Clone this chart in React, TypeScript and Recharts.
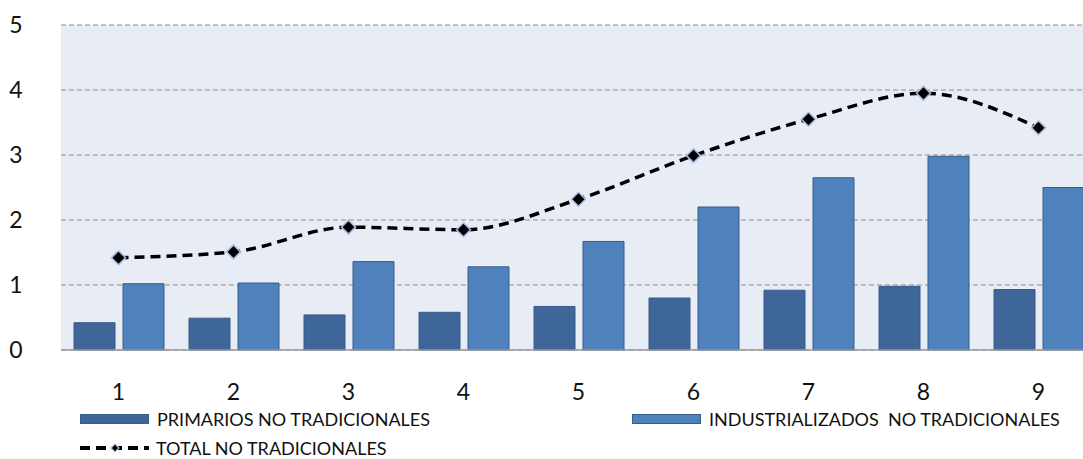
import React from "react"
import {
  ComposedChart,
  Bar,
  Line,
  XAxis,
  YAxis,
  CartesianGrid,
} from "recharts"

const categories = ["1", "2", "3", "4", "5", "6", "7", "8", "9"]
const primarios = [0.42, 0.49, 0.54, 0.58, 0.67, 0.8, 0.92, 0.98, 0.93]
const industrializados = [1.02, 1.03, 1.36, 1.28, 1.67, 2.2, 2.65, 2.98, 2.5]
const total = [1.42, 1.51, 1.89, 1.85, 2.32, 2.99, 3.55, 3.95, 3.42]
const yTicks = [0, 1, 2, 3, 4, 5]

const data = categories.map((c, i) => ({
  name: c,
  primarios: primarios[i],
  industrializados: industrializados[i],
  total: total[i],
}))

const FONT = "Lato, 'Open Sans', sans-serif"
const DARK = "#3F6698"
const LIGHT = "#4F81BD"
const EDGE = "#385D8A"

// diamond marker
const Diamond = (props: any) => {
  const { cx, cy } = props
  if (cx == null || cy == null) return null
  const r = 7
  return (
    <polygon
      points={`${cx},${cy - r} ${cx + r},${cy} ${cx},${cy + r} ${cx - r},${cy}`}
      fill="#000"
      stroke="#A9BCE0"
      strokeWidth={1.5}
    />
  )
}

const YTick = (props: any) => {
  const { y, payload } = props
  return (
    <text x={16} y={y} dy={8} textAnchor="middle" fontSize={23} fill="#111" fontFamily={FONT}>
      {payload.value}
    </text>
  )
}

function LegendRow() {
  const text = { fontSize: 18, lineHeight: "16px", color: "#111", fontFamily: FONT, whiteSpace: "nowrap" as const }
  return (
    <>
      <div style={{ position: "absolute", left: 80, top: 411, height: 16, display: "flex", alignItems: "center" }}>
        <div style={{ width: 67, height: 8, background: DARK, border: `1px solid ${EDGE}` }} />
        <span style={{ ...text, marginLeft: 8 }}>PRIMARIOS NO TRADICIONALES</span>
      </div>
      <div style={{ position: "absolute", left: 632, top: 411, height: 16, display: "flex", alignItems: "center" }}>
        <div style={{ width: 67, height: 8, background: LIGHT, border: `1px solid ${EDGE}` }} />
        <span style={{ ...text, marginLeft: 8 }}>INDUSTRIALIZADOS&nbsp; NO TRADICIONALES</span>
      </div>
      <div style={{ position: "absolute", left: 80, top: 440, height: 16, display: "flex", alignItems: "center" }}>
        <svg width={69} height={12}>
          <line x1={0} y1={6} x2={69} y2={6} stroke="#000" strokeWidth={4} strokeDasharray="10 6" />
          <polygon points="35,2 39,6 35,10 31,6" fill="#000" stroke="#A9BCE0" strokeWidth={1.2} />
        </svg>
        <span style={{ ...text, marginLeft: 7 }}>TOTAL NO TRADICIONALES</span>
      </div>
    </>
  )
}

export default function App() {
  return (
    <div style={{ position: "fixed", left: 0, top: 0, width: 1083, height: 459, overflow: "hidden", background: "#fff" }}>
      <ComposedChart
        width={1100}
        height={459}
        data={data}
        margin={{ top: 25, right: 4, bottom: 79, left: 0 }}
        barCategoryGap={13}
        barGap={8}
      >
        <CartesianGrid
          vertical={false}
          fill="#E8ECF4"
          stroke="#8C8C8C"
          strokeDasharray="5 3"
        />
        <XAxis
          dataKey="name"
          height={30}
          tickLine={false}
          axisLine={{ stroke: "#9A9A9A", strokeWidth: 1.5 }}
          tick={{ fontSize: 23, fill: "#111", fontFamily: FONT }}
          tickMargin={28}
        />
        <YAxis
          width={61}
          domain={[0, 5]}
          ticks={yTicks}
          axisLine={false}
          tickLine={false}
          tick={<YTick />}
        />
        <Bar dataKey="primarios" fill={DARK} stroke={EDGE} strokeWidth={1} isAnimationActive={false} />
        <Bar dataKey="industrializados" fill={LIGHT} stroke={EDGE} strokeWidth={1} isAnimationActive={false} />
        <Line
          type="monotone"
          dataKey="total"
          stroke="#000"
          strokeWidth={3.5}
          strokeDasharray="10 6"
          dot={<Diamond />}
          activeDot={false}
          isAnimationActive={false}
        />
      </ComposedChart>
      <LegendRow />
    </div>
  )
}
